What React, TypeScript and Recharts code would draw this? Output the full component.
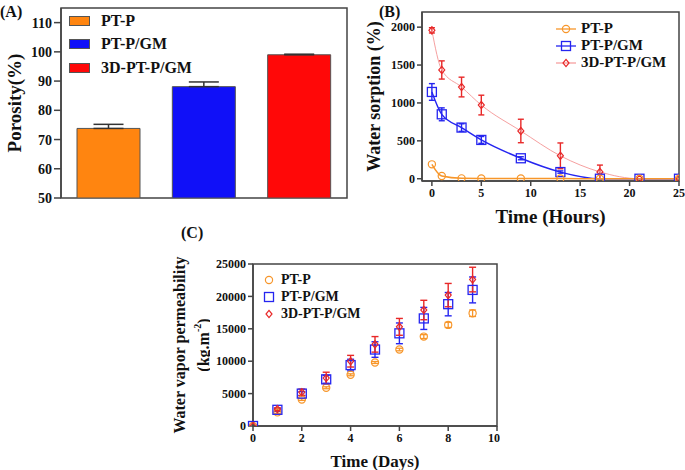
import {
  Bar,
  BarChart,
  Cell,
  ErrorBar,
  Legend,
  Line,
  LineChart,
  ReferenceArea,
  Scatter,
  ScatterChart,
  XAxis,
  YAxis,
} from 'recharts'

const FONT = '"Liberation Serif", "Times New Roman", serif'
const AXIS = '#444'

// (A) porosity
const porosityGroups = ['PT-P', 'PT-P/GM', '3D-PT-P/GM']
const porosityValues = [73.8, 88.1, 99.0]
const porosityErrors = [1.4, 1.6, 0.2]
const groupColors = ['#FF8510', '#1010F8', '#FF0808']

// (B) water sorption (%)
const sorptionHours = [0, 1, 3, 5, 9, 13, 17, 21, 25]
const sorptionPTP = [190, 35, 5, 3, 2, 2, 0, 0, 0]
const sorptionGM = [1145, 850, 675, 512, 270, 88, 0, 0, 0]
const sorptionGMErr = [110, 85, 50, 45, 20, 15, 0, 0, 0]
const sorption3D = [1958, 1435, 1210, 972, 630, 302, 90, 0, 0]
const sorption3DErr = [35, 120, 130, 130, 155, 170, 90, 0, 0]

// (C) water vapor permeability
const days = [0, 1, 2, 3, 4, 5, 6, 7, 8, 9]
const wvpPTP = [0, 2100, 4100, 5900, 7900, 9800, 11800, 13800, 15600, 17400]
const wvpPTPErr = [0, 150, 150, 150, 150, 150, 200, 300, 400, 500]
const wvpGM = [0, 2500, 5000, 7200, 9400, 11800, 14300, 16600, 18800, 21000]
const wvpGMErr = [0, 200, 300, 600, 900, 1200, 1600, 1700, 1800, 2000]
const wvp3D = [0, 2600, 5200, 7400, 10000, 12600, 15300, 17900, 20200, 22600]
const wvp3DErr = [0, 200, 500, 900, 900, 1200, 1300, 1500, 1800, 1900]

const orange = '#F7962A'
const blue = '#2525F0'
const red = '#E82828'

const tickStyle = { fill: '#111', fontFamily: FONT, fontWeight: 700, fontSize: 12 }

const porosityData = porosityGroups.map((name, i) => ({
  name,
  value: porosityValues[i],
  err: [0, porosityErrors[i]],
}))

const sorptionData = sorptionHours.map((t, i) => ({
  t,
  ptp: sorptionPTP[i],
  gm: sorptionGM[i],
  gmErr: sorptionGMErr[i],
  d3: sorption3D[i],
  d3Err: sorption3DErr[i],
}))

const toPoints = (vals: number[], errs: number[]) =>
  days.map((x, i) => ({ x, y: vals[i], e: errs[i] }))

const Circle = ({ cx, cy, color }: any) =>
  cx == null ? null : <circle cx={cx} cy={cy} r={3.6} fill="none" stroke={color} strokeWidth={1.2} />

const Square = ({ cx, cy, color }: any) =>
  cx == null ? null : (
    <rect x={cx - 4.5} y={cy - 4.5} width={9} height={9} fill="none" stroke={color} strokeWidth={1.3} />
  )

const Diamond = ({ cx, cy, color }: any) =>
  cx == null ? null : (
    <path
      d={`M${cx},${cy - 3.6}L${cx + 3},${cy}L${cx},${cy + 3.6}L${cx - 3},${cy}Z`}
      fill="none"
      stroke={color}
      strokeWidth={1.2}
    />
  )

// plot frame: a reference area spanning the whole y domain and x range
const Frame = (y1: number, y2: number) => (
  <ReferenceArea y1={y1} y2={y2} ifOverflow="visible" fill="none" fillOpacity={0} stroke={AXIS} strokeWidth={1.5} />
)

const rotatedLabel = (text: any, x: number, fontSize: number) => ({ viewBox }: any) => {
  const cy = viewBox.y + viewBox.height / 2
  return (
    <text
      x={x}
      y={cy}
      transform={`rotate(-90 ${x} ${cy})`}
      textAnchor="middle"
      dominantBaseline="central"
      fontFamily={FONT}
      fontWeight={700}
      fontSize={fontSize}
      fill="#111"
    >
      {text}
    </text>
  )
}

const bottomLabel = (text: string, dy: number, fontSize: number) => ({ viewBox }: any) => (
  <text
    x={viewBox.x + viewBox.width / 2}
    y={viewBox.y + dy}
    textAnchor="middle"
    fontFamily={FONT}
    fontWeight={700}
    fontSize={fontSize}
    fill="#111"
  >
    {text}
  </text>
)

const panelTitle = (text: string, left: number, top: number) => (
  <div
    style={{
      position: 'absolute',
      left,
      top,
      fontFamily: FONT,
      fontWeight: 700,
      fontSize: 16,
      lineHeight: '16px',
      color: '#111',
    }}
  >
    {text}
  </div>
)

function PorosityLegend() {
  return (
    <div style={{ fontFamily: FONT, fontWeight: 700, fontSize: 16, color: '#111' }}>
      {porosityGroups.map((name, i) => (
        <div key={name} style={{ display: 'flex', alignItems: 'center', height: 23.5 }}>
          <span
            style={{
              display: 'inline-block',
              width: 19,
              height: 8,
              background: groupColors[i],
              border: '1px solid #555',
              marginRight: 11,
            }}
          />
          {name}
        </div>
      ))}
    </div>
  )
}

function SorptionLegend() {
  const rows = [
    { name: 'PT-P', line: orange, Shape: Circle, mark: orange },
    { name: 'PT-P/GM', line: blue, Shape: Square, mark: blue },
    { name: '3D-PT-P/GM', line: '#F6A0A0', Shape: Diamond, mark: red },
  ]
  return (
    <div style={{ fontFamily: FONT, fontWeight: 700, fontSize: 15, color: '#111' }}>
      {rows.map(({ name, line, Shape, mark }) => (
        <div key={name} style={{ display: 'flex', alignItems: 'center', height: 17 }}>
          <svg width={22} height={12} style={{ marginRight: 4 }}>
            <line x1={1} y1={6} x2={21} y2={6} stroke={line} strokeWidth={1.3} />
            <Shape cx={11} cy={6} color={mark} />
          </svg>
          {name}
        </div>
      ))}
    </div>
  )
}

function WvpLegend() {
  const rows = [
    { name: 'PT-P', Shape: Circle, color: orange },
    { name: 'PT-P/GM', Shape: Square, color: blue },
    { name: '3D-PT-P/GM', Shape: Diamond, color: red },
  ]
  return (
    <div style={{ fontFamily: FONT, fontWeight: 700, fontSize: 14, color: '#111' }}>
      {rows.map(({ name, Shape, color }) => (
        <div key={name} style={{ display: 'flex', alignItems: 'center', height: 17 }}>
          <svg width={12} height={12} style={{ marginRight: 6 }}>
            <Shape cx={6} cy={6} color={color} />
          </svg>
          {name}
        </div>
      ))}
    </div>
  )
}

function PorosityChart() {
  return (
    <BarChart width={350} height={215} data={porosityData} margin={{ top: 8, right: 3, bottom: 17, left: 0 }}>
      <XAxis dataKey="name" tick={false} tickLine={false} height={0} stroke={AXIS} strokeWidth={1.5} />
      <YAxis
        domain={[50, 115]}
        ticks={[50, 60, 70, 80, 90, 100, 110]}
        allowDataOverflow
        width={61}
        tickSize={7}
        stroke={AXIS}
        strokeWidth={1.5}
        tick={{ ...tickStyle, fontSize: 14 }}
        label={rotatedLabel('Porosity(%)', 14, 19)}
      />
      {Frame(50, 115)}
      <Legend
        layout="vertical"
        align="center"
        verticalAlign="middle"
        content={() => <PorosityLegend />}
        wrapperStyle={{ left: 69, top: 9, width: 'auto' }}
      />
      <Bar dataKey="value" barSize={63} stroke="#555" strokeWidth={1} isAnimationActive={false}>
        {porosityData.map((d, i) => (
          <Cell key={d.name} fill={groupColors[i]} />
        ))}
        <ErrorBar dataKey="err" width={15} stroke="#333" strokeWidth={1.5} />
      </Bar>
    </BarChart>
  )
}

function SorptionChart() {
  return (
    <LineChart width={340} height={230} data={sorptionData} margin={{ top: 12, right: 6, bottom: 0, left: 0 }}>
      <XAxis
        dataKey="t"
        type="number"
        domain={[-1, 25]}
        ticks={[0, 5, 10, 15, 20, 25]}
        allowDataOverflow
        height={49}
        tickSize={5}
        stroke={AXIS}
        strokeWidth={1.5}
        tick={tickStyle}
        label={bottomLabel('Time (Hours)', 42, 19)}
      />
      <YAxis
        domain={[-30, 2200]}
        ticks={[0, 500, 1000, 1500, 2000]}
        allowDataOverflow
        width={77}
        tickSize={5}
        stroke={AXIS}
        strokeWidth={1.5}
        tick={tickStyle}
        label={rotatedLabel('Water sorption (%)', 29, 18)}
      />
      {Frame(-30, 2200)}
      <Legend
        layout="vertical"
        align="center"
        verticalAlign="middle"
        content={() => <SorptionLegend />}
        wrapperStyle={{ left: 210, top: 20, width: 'auto' }}
      />
      <Line
        dataKey="d3"
        type="monotone"
        stroke="#F6A0A0"
        strokeWidth={1}
        isAnimationActive={false}
        dot={(p: any) => <Diamond key={p.index} cx={p.cx} cy={p.cy} color={red} />}
      >
        <ErrorBar dataKey="d3Err" direction="y" width={3} stroke={red} strokeWidth={1.4} />
      </Line>
      <Line
        dataKey="gm"
        type="monotone"
        stroke={blue}
        strokeWidth={1.4}
        isAnimationActive={false}
        dot={(p: any) => <Square key={p.index} cx={p.cx} cy={p.cy} color={blue} />}
      >
        <ErrorBar dataKey="gmErr" direction="y" width={3} stroke={blue} strokeWidth={1.4} />
      </Line>
      <Line
        dataKey="ptp"
        type="monotone"
        stroke={orange}
        strokeWidth={1.5}
        isAnimationActive={false}
        dot={(p: any) => <Circle key={p.index} cx={p.cx} cy={p.cy} color={orange} />}
      />
    </LineChart>
  )
}

function WvpChart() {
  return (
    <ScatterChart width={330} height={250} margin={{ top: 44, right: 3, bottom: 0, left: 0 }}>
      <XAxis
        dataKey="x"
        type="number"
        domain={[0, 10]}
        ticks={[0, 2, 4, 6, 8, 10]}
        height={44}
        tickSize={5}
        stroke={AXIS}
        strokeWidth={1.5}
        tick={tickStyle}
        label={bottomLabel('Time (Days)', 41, 17)}
      />
      <YAxis
        dataKey="y"
        type="number"
        domain={[0, 25000]}
        ticks={[0, 5000, 10000, 15000, 20000, 25000]}
        allowDataOverflow
        width={83}
        tickSize={5}
        stroke={AXIS}
        strokeWidth={1.5}
        tick={tickStyle}
        label={rotatedLabel('Water vapor permeability', 9, 16)}
      />
      {Frame(0, 25000)}
      <Legend
        layout="vertical"
        align="center"
        verticalAlign="middle"
        content={() => <WvpLegend />}
        wrapperStyle={{ left: 93, top: 51, width: 'auto' }}
      />
      <Scatter
        data={toPoints(wvpPTP, wvpPTPErr)}
        isAnimationActive={false}
        shape={(p: any) => <Circle cx={p.cx} cy={p.cy} color={orange} />}
      >
        <ErrorBar dataKey="e" direction="y" width={3.5} stroke={orange} strokeWidth={1.3} />
      </Scatter>
      <Scatter
        data={toPoints(wvpGM, wvpGMErr)}
        isAnimationActive={false}
        shape={(p: any) => <Square cx={p.cx} cy={p.cy} color={blue} />}
      >
        <ErrorBar dataKey="e" direction="y" width={3.5} stroke={blue} strokeWidth={1.4} />
      </Scatter>
      <Scatter
        data={toPoints(wvp3D, wvp3DErr)}
        isAnimationActive={false}
        shape={(p: any) => <Diamond cx={p.cx} cy={p.cy} color={red} />}
      >
        <ErrorBar dataKey="e" direction="y" width={3.5} stroke={red} strokeWidth={1.4} />
      </Scatter>
    </ScatterChart>
  )
}

export default function App() {
  return (
    <div style={{ position: 'absolute', left: 0, top: 0, width: 685, height: 470, background: '#fff', overflow: 'hidden' }}>
      <div style={{ position: 'absolute', left: 170, top: 220 }}>
        <WvpChart />
        <svg width={40} height={250} style={{ position: 'absolute', left: 0, top: 0, pointerEvents: 'none' }}>
          <text
            x={33}
            y={125}
            transform="rotate(-90 33 125)"
            textAnchor="middle"
            dominantBaseline="central"
            fontFamily={FONT}
            fontWeight={700}
            fontSize={16}
            fill="#111"
          >
            (kg.m<tspan dy={-6} fontSize={10}>-2</tspan>
            <tspan dy={6}>)</tspan>
          </text>
        </svg>
      </div>
      <div style={{ position: 'absolute', left: 345, top: 0 }}>
        <SorptionChart />
      </div>
      <div style={{ position: 'absolute', left: 0, top: 0 }}>
        <PorosityChart />
      </div>
      {panelTitle('(A)', 0, 4)}
      {panelTitle('(B)', 379, 4)}
      {panelTitle('(C)', 181, 225)}
    </div>
  )
}
